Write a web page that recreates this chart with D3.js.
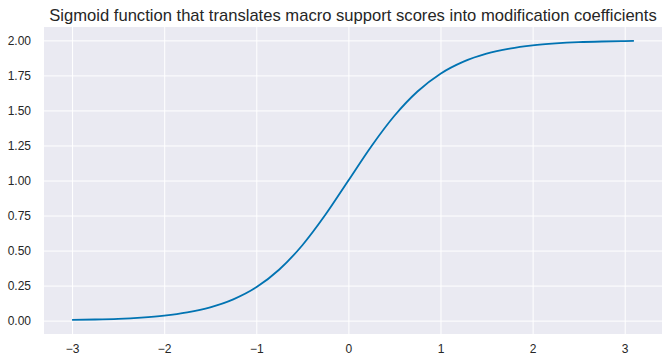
<!DOCTYPE html>
<html>
<head>
<meta charset="utf-8">
<script src="https://cdn.jsdelivr.net/npm/d3@7"></script>
<style>
  html, body { margin: 0; padding: 0; background: #fff; }
  svg { display: block; font-family: 'Liberation Sans', Arial, sans-serif; }
</style>
</head>
<body>
<svg id="chart" width="670" height="363"></svg>
<script>
const TITLE = 'Sigmoid function that translates macro support scores into modification coefficients';

// scores
const scores = [-3, -2.75, -2.5, -2.25, -2, -1.75, -1.5, -1.25, -1, -0.75, -0.5, -0.25,
  0, 0.25, 0.5, 0.75, 1, 1.25, 1.5, 1.75, 2, 2.25, 2.5, 2.75, 3, 3.1];
const coefficients = [0.005, 0.008, 0.013, 0.022, 0.036, 0.059, 0.095, 0.152, 0.238, 0.365, 0.538, 0.755,
  1.0, 1.245, 1.462, 1.635, 1.762, 1.848, 1.905, 1.941, 1.964, 1.978, 1.987, 1.992, 1.995, 1.996];

const xTicks = [-3, -2, -1, 0, 1, 2, 3];
const yTicks = [0, 0.25, 0.5, 0.75, 1, 1.25, 1.5, 1.75, 2];

const margin = { top: 27, right: 8, bottom: 29, left: 44 };
const width = 670;
const height = 363;

const svg = d3.select('#chart');

const x = d3.scaleLinear().domain([-3.305, 3.405]).range([margin.left, width - margin.right]);
const y = d3.scaleLinear().domain([-0.0955, 2.0955]).range([height - margin.bottom, margin.top]);

svg.append('rect')
  .attr('x', margin.left)
  .attr('y', margin.top)
  .attr('width', width - margin.left - margin.right)
  .attr('height', height - margin.top - margin.bottom)
  .attr('fill', '#eaeaf2');

const xAxis = svg.append('g')
  .attr('transform', `translate(0,${height - margin.bottom})`)
  .call(d3.axisBottom(x).tickValues(xTicks).tickSize(-(height - margin.top - margin.bottom)).tickPadding(10)
    .tickFormat((d) => d3.format('d')(d).replace('-', '\u2212')));

const yAxis = svg.append('g')
  .attr('transform', `translate(${margin.left},0)`)
  .call(d3.axisLeft(y).tickValues(yTicks).tickSize(-(width - margin.left - margin.right)).tickPadding(13)
    .tickFormat(d3.format('.2f')));

[xAxis, yAxis].forEach((axis) => {
  axis.select('.domain').remove();
  axis.selectAll('.tick line').attr('stroke', '#fff').attr('stroke-width', 1);
  axis.selectAll('.tick text')
    .attr('fill', '#262626')
    .style('font-size', '12px')
    .style('font-family', "'Liberation Sans', Arial, sans-serif");
});

const points = scores.map((s, i) => [s, coefficients[i]]);

const line = d3.line()
  .x((d) => x(d[0]))
  .y((d) => y(d[1]))
  .curve(d3.curveMonotoneX);

svg.append('path')
  .datum(points)
  .attr('d', line)
  .attr('fill', 'none')
  .attr('stroke', '#0173b2')
  .attr('stroke-width', 1.8);

svg.append('text')
  .attr('x', (margin.left + width - margin.right) / 2)
  .attr('y', 21)
  .attr('text-anchor', 'middle')
  .attr('fill', '#262626')
  .style('font-size', '16.6px')
  .text(TITLE);
</script>
</body>
</html>
